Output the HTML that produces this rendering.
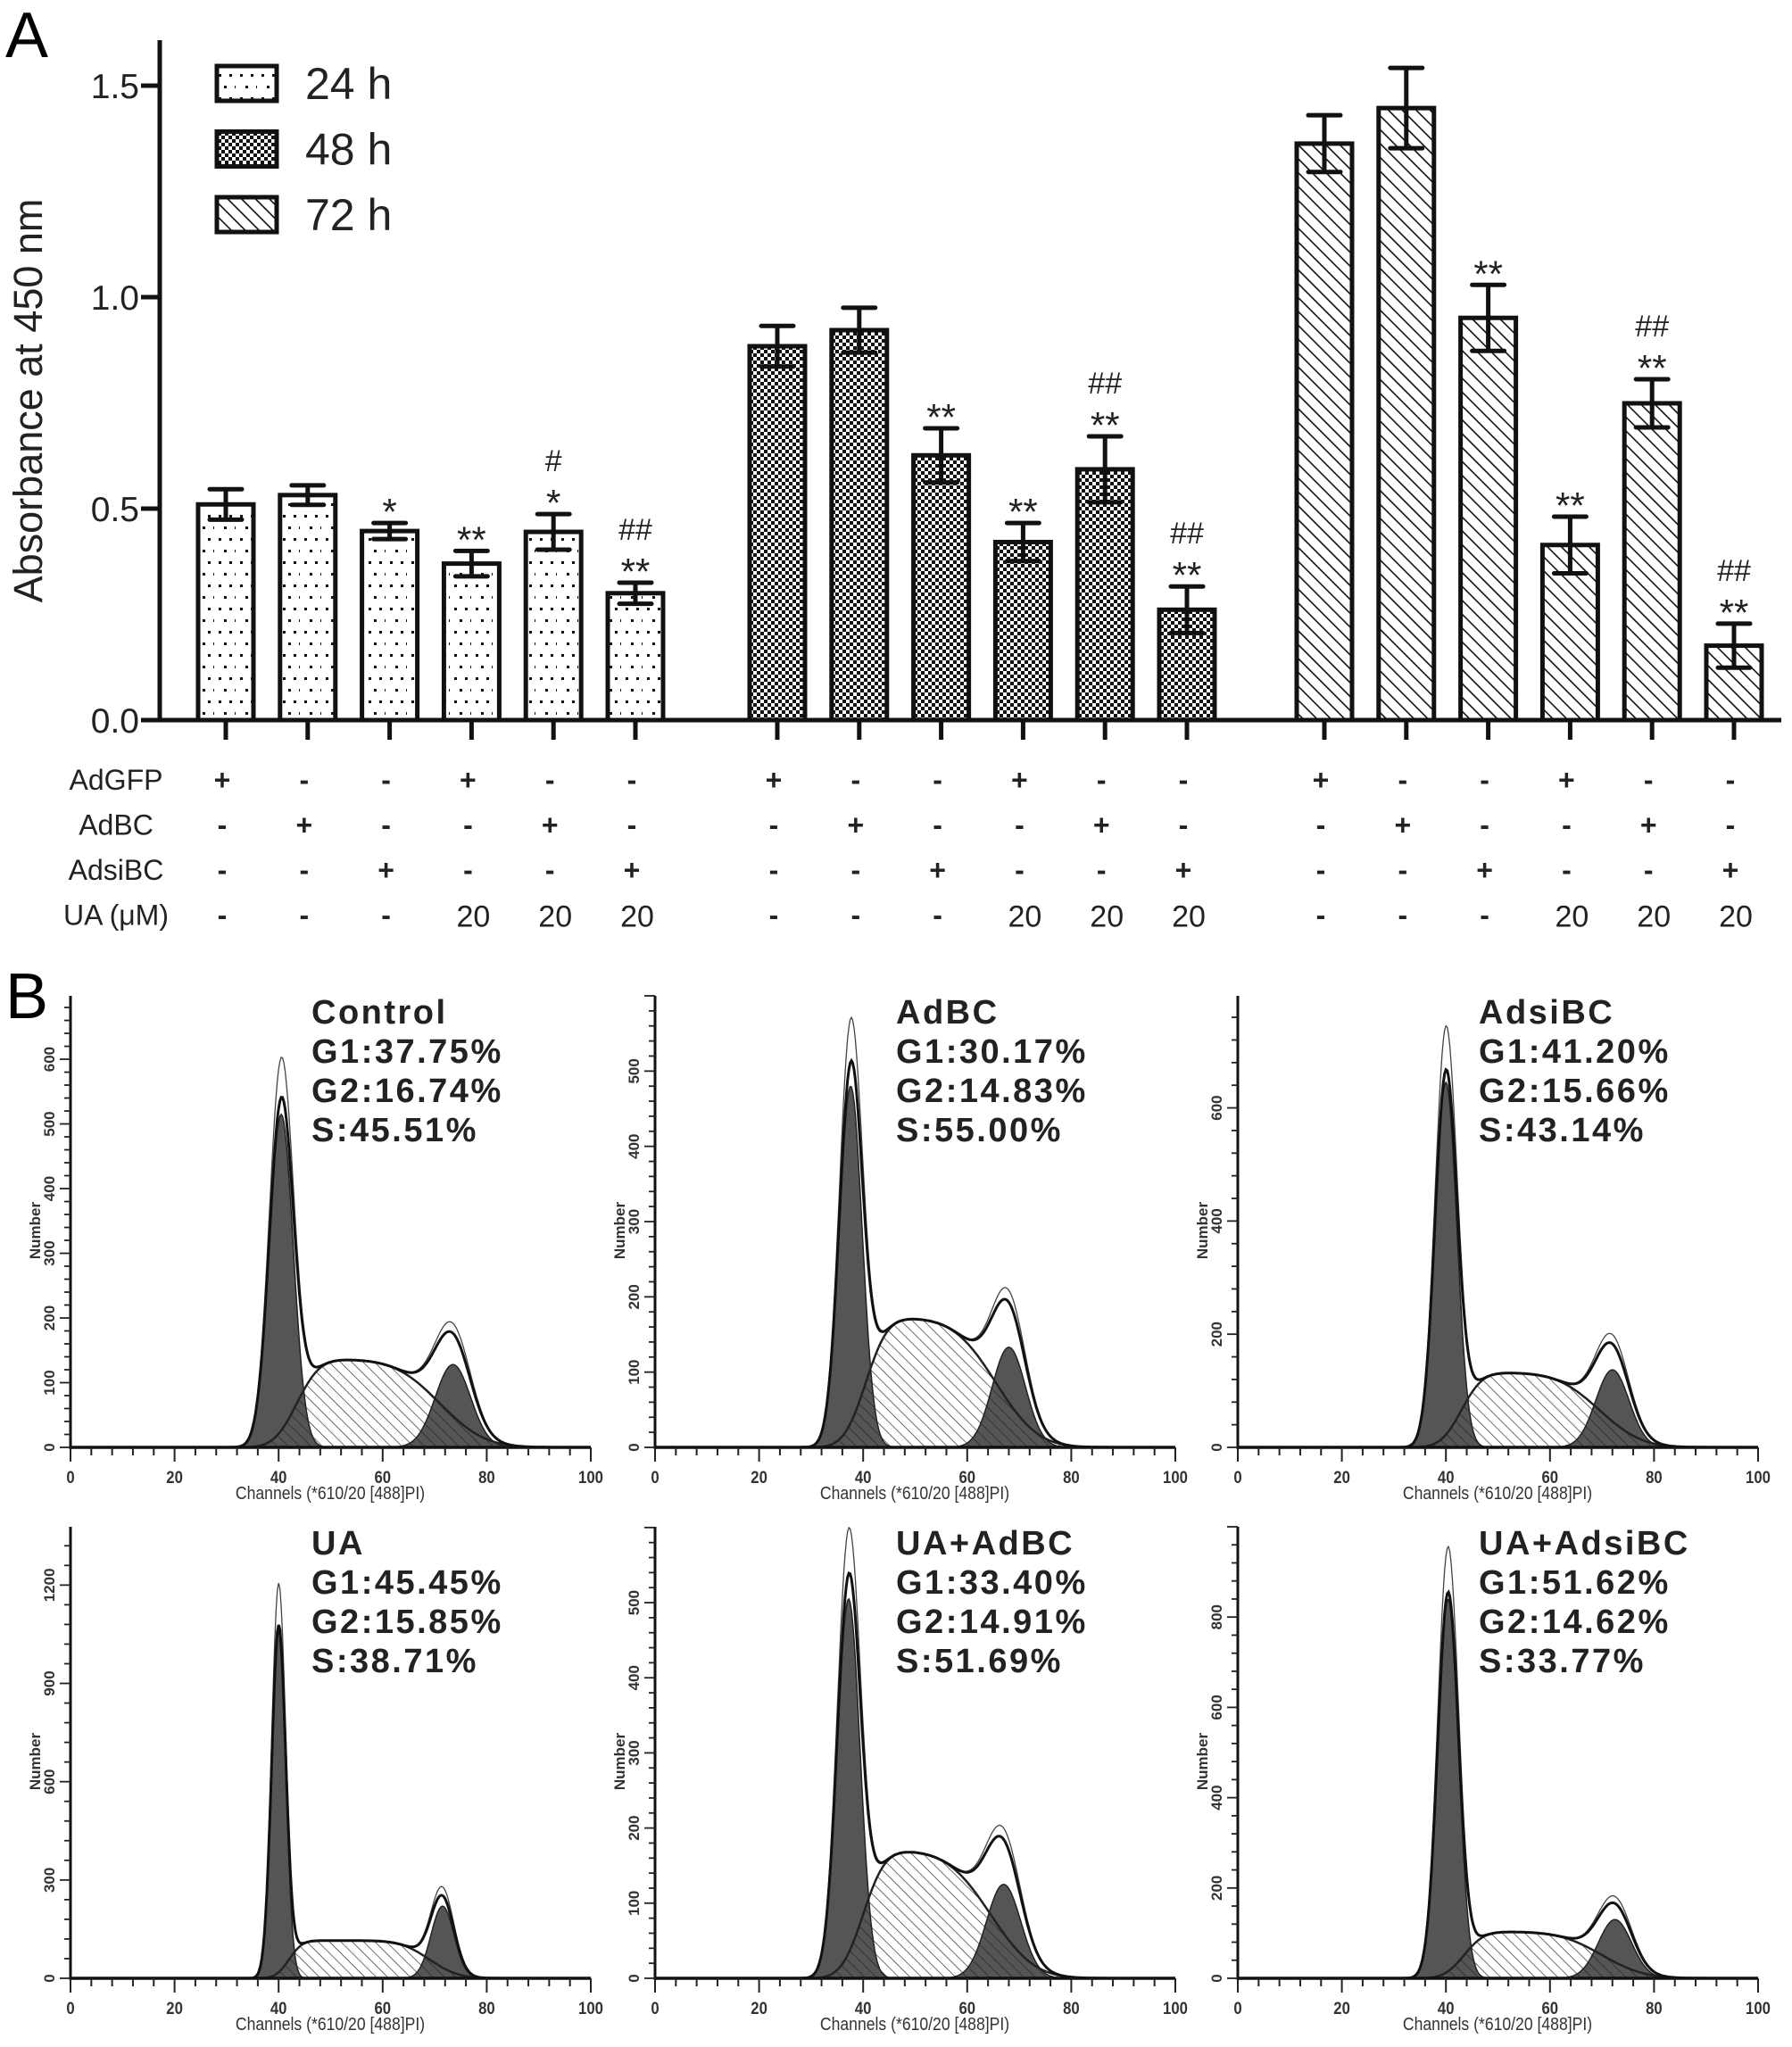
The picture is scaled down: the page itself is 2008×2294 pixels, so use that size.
<!DOCTYPE html>
<html><head><meta charset="utf-8"><style>
html,body{margin:0;padding:0;background:#fff;}
svg{display:block;}
text{font-family:"Liberation Sans",Arial,sans-serif;}
</style></head><body>
<svg id="fig" width="2008" height="2294" viewBox="0 0 2008 2294" xmlns="http://www.w3.org/2000/svg">
<defs>
<pattern id="pDots" width="24" height="26" patternUnits="userSpaceOnUse">
<rect x="5" y="5" width="3" height="3" fill="#111"/><rect x="17" y="5" width="3" height="3" fill="#111"/>
<rect x="11" y="18" width="3" height="3" fill="#111"/><rect x="23" y="18" width="3" height="3" fill="#111"/>
</pattern>
<pattern id="pCheck" width="8" height="8" patternUnits="userSpaceOnUse">
<rect width="8" height="8" fill="#fff"/><rect x="0" y="0" width="4" height="4" fill="#111"/><rect x="4" y="4" width="4" height="4" fill="#111"/>
</pattern>
<pattern id="pDiag" width="11" height="11" patternUnits="userSpaceOnUse" patternTransform="rotate(-45)">
<rect width="11" height="11" fill="#fff"/><line x1="0" y1="0" x2="0" y2="11" stroke="#111" stroke-width="3.2"/>
</pattern>
<pattern id="pHatch" width="9" height="9" patternUnits="userSpaceOnUse" patternTransform="rotate(-45)">
<line x1="0" y1="0" x2="0" y2="9" stroke="#222" stroke-width="1.3"/>
</pattern>
</defs>
<g id="panelA"></g>
<g id="panelB"></g>
</svg>
<script>
// ---------- Panel A data ----------
const groups = ["24 h","48 h","72 h"];
const vals24 = [0.51,0.532,0.447,0.37,0.445,0.30];
const err24  = [0.036,0.023,0.019,0.03,0.042,0.025];
const vals48 = [0.884,0.922,0.626,0.421,0.593,0.261];
const err48  = [0.048,0.053,0.064,0.045,0.078,0.055];
const vals72 = [1.363,1.447,0.951,0.414,0.749,0.176];
const err72  = [0.067,0.095,0.078,0.067,0.057,0.052];
const sig24 = [["",""],["",""],["*",""],["**",""],["*","#"],["**","##"]];
const sig48 = [["",""],["",""],["**",""],["**",""],["**","##"],["**","##"]];
const sig72 = [["",""],["",""],["**",""],["**",""],["**","##"],["**","##"]];
const yTicks = [0,0.5,1.0,1.5];
const yTickLabels = ["0.0","0.5","1.0","1.5"];
const rowNames = ["AdGFP","AdBC","AdsiBC","UA (μM)"];
const rowGFP = ["+","-","-","+","-","-"];
const rowBC  = ["-","+","-","-","+","-"];
const rowSi  = ["-","-","+","-","-","+"];
const rowUA  = ["-","-","-","20","20","20"];

const NS="http://www.w3.org/2000/svg";
function mk(tag,attrs,parent,txt){const e=document.createElementNS(NS,tag);for(const k in attrs)e.setAttribute(k,attrs[k]);if(txt!==undefined)e.textContent=txt;parent.appendChild(e);return e;}

const A=document.getElementById('panelA');
const yA=v=>807-v*474;
const groupStart=[253,871,1484], pitch=91.8, barW=62;
const xA=(g,i)=>groupStart[g]+i*pitch;

let t=mk('text',{x:6,y:64,'font-size':72},A,'A');


let ax=mk('line',{x1:179,y1:45,x2:179,y2:809,stroke:'#111','stroke-width':5},A);


ax=mk('line',{x1:177,y1:807,x2:1996,y2:807,stroke:'#111','stroke-width':5},A);


yTicks.forEach((v,i)=>{
  const tk=mk('line',{x1:158,y1:yA(v),x2:179,y2:yA(v),stroke:'#111','stroke-width':5},A);
  
  
  const tl=mk('text',{x:156,y:yA(v)+14,'font-size':39,'text-anchor':'end',fill:'#222'},A,yTickLabels[i]);
  
  
});
t=mk('text',{x:0,y:0,'font-size':45,'text-anchor':'middle',fill:'#222',transform:'translate(47,449) rotate(-90)'},A,'Absorbance at 450 nm');



const fills=['url(#pDots)','url(#pCheck)','url(#pDiag)'];
const allVals=[vals24,vals48,vals72], allErr=[err24,err48,err72], allSig=[sig24,sig48,sig72];
const rows=[rowGFP,rowBC,rowSi,rowUA];
for(let g=0;g<3;g++){
  for(let i=0;i<6;i++){
    const cx=xA(g,i), v=allVals[g][i], e=allErr[g][i];
    const b=mk('rect',{x:cx-barW/2,y:yA(v),width:barW,height:yA(0)-yA(v),fill:fills[g],stroke:'#111','stroke-width':5},A);
    
    
    const eb=mk('path',{d:`M${cx},${yA(v-e)}V${yA(v+e)}M${cx-18},${yA(v+e)}H${cx+18}M${cx-18},${yA(v-e)}H${cx+18}`,stroke:'#111','stroke-width':5,fill:'none','stroke-linecap':'round'},A);
    
    
    const tk=mk('line',{x1:cx,y1:807,x2:cx,y2:829,stroke:'#111','stroke-width':5},A);
    
    
    const s=allSig[g][i], top=yA(v+e);
    if(s[0]){const st=mk('text',{x:cx,y:top+2,'font-size':42,'text-anchor':'middle',fill:'#222'},A,s[0]);
      
      }
    if(s[1]){const h=mk('text',{x:cx,y:top-48,'font-size':34,'text-anchor':'middle',fill:'#222','font-family':'Liberation Serif, serif'},A,s[1]);
      
      }
    for(let r=0;r<4;r++){
      const val=rows[r][i];
      const big=val==='20';
      const c=mk('text',{x:cx+(big?2:-4),y:874+r*50.5+(big?13:11),'font-size':big?34:32,'font-weight':big?'normal':'bold','text-anchor':'middle',fill:'#222'},A,val);
      
      
    }
  }
}
rowNames.forEach((n,r)=>{
  const l=mk('text',{x:130,y:874+r*50.5+11,'font-size':32,'text-anchor':'middle',fill:'#222'},A,n);
  
  
});
groups.forEach((gname,i)=>{
  const y0=74+i*73.5;
  const r=mk('rect',{x:243,y:y0,width:67,height:39,fill:fills[i],stroke:'#111','stroke-width':5},A);
  
  
  const lt=mk('text',{x:342,y:y0+37,'font-size':50,fill:'#222'},A,gname);
  
  
});

// ---------- Panel B data ----------
const plotNames = ["Control","AdBC","AdsiBC","UA","UA+AdBC","UA+AdsiBC"];
const g1Pct = ["37.75","30.17","41.20","45.45","33.40","51.62"];
const g2Pct = ["16.74","14.83","15.66","15.85","14.91","14.62"];
const sPct  = ["45.51","55.00","43.14","38.71","51.69","33.77"];
const yMax   = [698,600,798,1378,601,1000];
const yStep  = [100,100,200,300,100,200];
const g1Mean = [40.5,37.6,40.0,40.0,37.2,40.4];
const g1H    = [515,480,645,1060,505,840];
const g1Sd   = [2.3,2.2,2.1,1.35,2.2,2.0];
const g2Mean = [73.5,68.0,72.0,71.5,67.0,72.5];
const g2H    = [128,133,137,220,125,130];
const g2Sd   = [3.4,3.2,3.2,2.2,3.3,3.2];
const sH     = [136,172,132,115,170,103];
const sStart = [43.5,40.5,43.0,42.0,40.0,43.5];
const sEnd   = [71.0,65.5,69.5,69.0,64.5,70.0];

const B=document.getElementById('panelB');
t=mk('text',{x:6,y:1141,'font-size':72},B,'B');



function erf(x){const s=x<0?-1:1;x=Math.abs(x);const a1=0.254829592,a2=-0.284496736,a3=1.421413741,a4=-1.453152027,a5=1.061405429,p=0.3275911;const tt=1/(1+p*x);const y=1-(((((a5*tt+a4)*tt)+a3)*tt+a2)*tt+a1)*tt*Math.exp(-x*x);return s*y;}
const Phi=z=>0.5*(1+erf(z/Math.SQRT2));

const colX=[79,734,1387], rowAxisY=[1622,2217], plotW=583, plotH=506;
for(let k=0;k<6;k++){
  const x0=colX[k%3], yb=rowAxisY[Math.floor(k/3)];
  const G=mk('g',{},B);
  
  
  const X=c=>x0+c/100*plotW, Y=v=>yb-v/yMax[k]*plotH;
  const g1=c=>g1H[k]*Math.exp(-0.5*((c-g1Mean[k])/g1Sd[k])**2);
  const g2=c=>g2H[k]*Math.exp(-0.5*((c-g2Mean[k])/g2Sd[k])**2);
  const sc=c=>sH[k]*Phi((c-sStart[k])/(g1Sd[k]*1.5))*(1-Phi((c-sEnd[k])/(g2Sd[k]*2)));
  const pts=[];for(let c=25;c<=92;c+=0.25)pts.push(c);
  const area=f=>`M${X(25)},${yb}`+pts.map(c=>`L${X(c).toFixed(1)},${Y(f(c)).toFixed(1)}`).join('')+`L${X(92)},${yb}Z`;
  const line=f=>pts.map((c,i)=>(i?'L':'M')+X(c).toFixed(1)+','+Y(f(c)).toFixed(1)).join('');
  let e=mk('path',{d:area(g1),fill:'#555',stroke:'#222','stroke-width':1.5},G);
  
  
  e=mk('path',{d:area(g2),fill:'#555',stroke:'#222','stroke-width':1.5},G);
  
  
  e=mk('path',{d:area(sc),fill:'url(#pHatch)',stroke:'#222','stroke-width':2.5},G);
  
  
  e=mk('path',{d:line(c=>g1(c)*1.12+g2(c)*1.12+sc(c)),fill:'none',stroke:'#444','stroke-width':1.3},G);
  
  
  e=mk('path',{d:line(c=>g1(c)+g2(c)+sc(c)),fill:'none',stroke:'#111','stroke-width':3},G);
  
  
  e=mk('line',{x1:x0,y1:yb-plotH,x2:x0,y2:yb+2,stroke:'#111','stroke-width':3},G);
  
  
  e=mk('line',{x1:x0,y1:yb,x2:x0+plotW,y2:yb,stroke:'#111','stroke-width':3.5},G);
  
  
  const minor=yStep[k]/5;
  for(let v=0;v<=yMax[k];v+=minor){
    const major=Math.abs(v/yStep[k]-Math.round(v/yStep[k]))<1e-6;
    mk('line',{x1:x0-(major?12:7),y1:Y(v),x2:x0,y2:Y(v),stroke:'#222','stroke-width':1.8},G);
    if(major && v<yMax[k]*0.97){
      const tl=mk('text',{x:0,y:0,'font-size':17,'font-weight':'bold','text-anchor':'middle',fill:'#333',transform:`translate(${x0-18},${Y(v)}) rotate(-90)`},G,String(Math.round(v)));
      
      
    }
  }
  for(let c=0;c<=100;c+=4){
    const major=c%20===0;
    mk('line',{x1:X(c),y1:yb,x2:X(c),y2:yb+(major?16:9),stroke:'#222','stroke-width':2},G);
    if(major){
      const tl=mk('text',{x:X(c),y:yb+40,'font-size':19,'font-weight':'bold','text-anchor':'middle',fill:'#333',transform:`translate(${X(c)*0.12},0) scale(0.88,1)`},G,String(c));
      
      
    }
  }
  e=mk('text',{x:0,y:0,'font-size':17,'font-weight':'bold','text-anchor':'middle',fill:'#333',transform:`translate(${x0-34},${yb-plotH/2+10}) rotate(-90)`},G,'Number');
  
  
  e=mk('text',{x:0,y:0,'font-size':20,'text-anchor':'middle',fill:'#333',transform:`translate(${x0+291},${yb+58}) scale(0.88,1)`},G,'Channels (*610/20 [488]PI)');
  
  
  const ty=yb-475;
  const lines=[plotNames[k],'G1:'+g1Pct[k]+'%','G2:'+g2Pct[k]+'%','S:'+sPct[k]+'%'];
  lines.forEach((s,i)=>{
    const lt=mk('text',{x:x0+270,y:ty+i*44,'font-size':38,'font-weight':'bold','letter-spacing':2.5,fill:'#222'},G,s);
    
    
  });
}
</script>
</body></html>
